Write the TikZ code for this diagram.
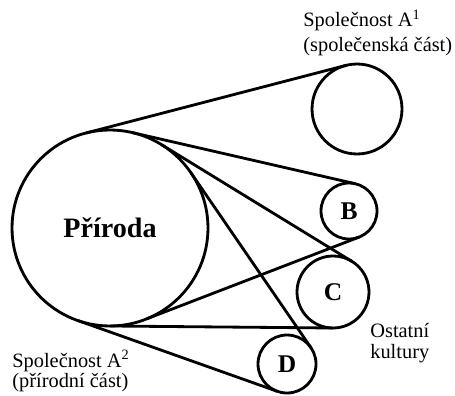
\documentclass[tikz,border=0pt]{standalone}
\usepackage{fontspec}
\setmainfont{Liberation Serif}
\tikzset{
  wheel/.style={draw, circle, line width=1.6pt, inner sep=0pt, outer sep=0pt},
  belt/.style={line width=1.6pt},
  lbl/.style={align=left, anchor=west, inner sep=0pt}
}

\begin{document}
\begin{tikzpicture}[x=0.02cm, y=-0.02cm]
  \useasboundingbox (0,0) rectangle (455,395);
  % Wheels
  \node[wheel, minimum size=3.92cm, font=\fontsize{16}{16}\selectfont\bfseries] (pri) at (110,228) {Příroda};
  \node[wheel, minimum size=1.8cm] (socA) at (357,109) {};
  \node[wheel, minimum size=1.12cm, font=\fontsize{14.5}{14.5}\selectfont\bfseries] (kulB) at (349,211) {B};
  \node[wheel, minimum size=1.44cm, font=\fontsize{14.5}{14.5}\selectfont\bfseries] (kulC) at (333,292) {C};
  \node[wheel, minimum size=1.16cm, font=\fontsize{14.5}{14.5}\selectfont\bfseries] (kulD) at (287,364) {D};
  % Belts
  \draw[belt] (pri.104.6) -- (socA.104.6);
  \draw[belt] (pri.77.1) -- (kulB.77.1);
  \draw[belt] (pri.-68.9) -- (kulB.-68.9);
  \draw[belt] (pri.58.5) -- (kulC.58.5);
  \draw[belt] (pri.-90.5) -- (kulC.-90.5);
  \draw[belt] (pri.34.5) -- (kulD.34.5);
  \draw[belt] (pri.-109.5) -- (kulD.-109.5);
  % Labels
  \node[lbl, font=\fontsize{11.6}{14.2}\selectfont] (labA) at (303,33) {Společnost A\textsuperscript{1}\\(společenská část)};
  \node[lbl, font=\fontsize{11.6}{11.6}\selectfont] (labP) at (12,371) {Společnost A\textsuperscript{2}\\(přírodní část)};
  \node[lbl, font=\fontsize{11.6}{11.6}\selectfont] (labK) at (370,343) {Ostatní\\kultury};
\end{tikzpicture}
\end{document}
